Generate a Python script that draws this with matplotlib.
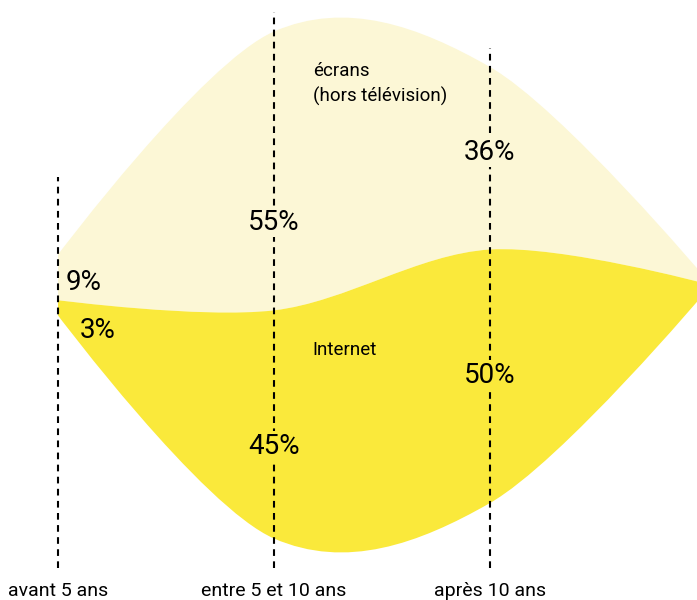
import numpy as np
import matplotlib
matplotlib.use('Agg')
from matplotlib import pyplot as plt
from matplotlib.path import Path
from matplotlib.patches import PathPatch

# data (percent); last column is the unlabelled tail of the stream, off the right edge
categories = ['avant 5 ans', 'entre 5 et 10 ans', 'après 10 ans', '']
ecrans = [9, 55, 36, 1]
internet = [3, 45, 50, 1.5]

col_ecrans = '#fcf7d6'
col_internet = '#fae93b'
font = 'Roboto'


def cardinal_path(xs, ys0, ys1):
	# closed area: upper edge left->right, lower edge right->left, d3 cardinal curve (tension 0)
	def segs(px, py):
		n = len(px)
		k = 1.0/6
		verts = []
		for i in range(n - 1):
			xp = px[i+1] if i == 0 else px[i-1]
			yp = py[i+1] if i == 0 else py[i-1]
			xn = px[i] if i == n - 2 else px[i+2]
			yn = py[i] if i == n - 2 else py[i+2]
			verts.append((px[i] + k*(px[i+1] - xp), py[i] + k*(py[i+1] - yp)))
			verts.append((px[i+1] + k*(px[i] - xn), py[i+1] + k*(py[i] - yn)))
			verts.append((px[i+1], py[i+1]))
		return verts
	xs = list(xs)
	top = segs(xs, list(ys1))
	bot = segs(xs[::-1], list(ys0)[::-1])
	verts = [(xs[0], ys1[0])] + top + [(xs[-1], ys0[-1])] + bot + [(xs[0], ys1[0])]
	codes = [Path.MOVETO] + [Path.CURVE4]*len(top) + [Path.LINETO] + [Path.CURVE4]*len(bot) + [Path.CLOSEPOLY]
	return Path(verts, codes)


x = np.arange(len(categories))
e = np.array(ecrans, float)
n = np.array(internet, float)
total = e + n
base = -total/2.0  # silhouette offset
n_top = base + n
e_top = n_top + e

fig = plt.figure(figsize=(6.97, 6.0), dpi=100)
ax = fig.add_axes([0, 0, 1, 1])
ax.set_xlim(-58/216., 639/216.)
ax.set_ylim(-315/5.07, 285/5.07)
ax.axis('off')

ax.add_patch(PathPatch(cardinal_path(x, n_top, e_top), facecolor=col_ecrans, edgecolor='none', zorder=1))
ax.add_patch(PathPatch(cardinal_path(x, base, n_top), facecolor=col_internet, edgecolor='none', zorder=1))

# dashed guides
line_tops = [21.3, 53.8, 46.7]
for i in range(3):
	ax.plot([x[i], x[i]], [-55.8, line_tops[i]], color='black', lw=1.5,
			linestyle=(0, (3.2, 2.6)), zorder=2)
	ax.text(x[i], -60.3, categories[i], ha='center', va='center', fontsize=14,
			family=font, color='black')

# value labels
lab_e = [(0.12, 0.4), (1.0, 12.4), (2.0, 26.2)]
lab_n = [(0.185, -8.9), (1.0, -31.8), (2.0, -17.8)]
for i in range(3):
	xe, ye = lab_e[i]
	xn, yn = lab_n[i]
	bb = None if i == 0 else dict(facecolor=col_ecrans, edgecolor='none', pad=1)
	ax.text(xe, ye, '%d%%' % ecrans[i], ha='center', va='center', fontsize=20,
			family=font, bbox=bb, zorder=3)
	bb = None if i == 0 else dict(facecolor=col_internet, edgecolor='none', pad=1)
	ax.text(xn, yn, '%d%%' % internet[i], ha='center', va='center', fontsize=20,
			family=font, bbox=bb, zorder=3)

ax.text(1.18, 44.0, 'écrans\n(hors télévision)', ha='left', va='top', fontsize=13.5,
		family=font, linespacing=1.45, zorder=3)
ax.text(1.176, -12.8, 'Internet', ha='left', va='center', fontsize=13.5,
		family=font, zorder=3)

fig.savefig('out.png', dpi=100)
